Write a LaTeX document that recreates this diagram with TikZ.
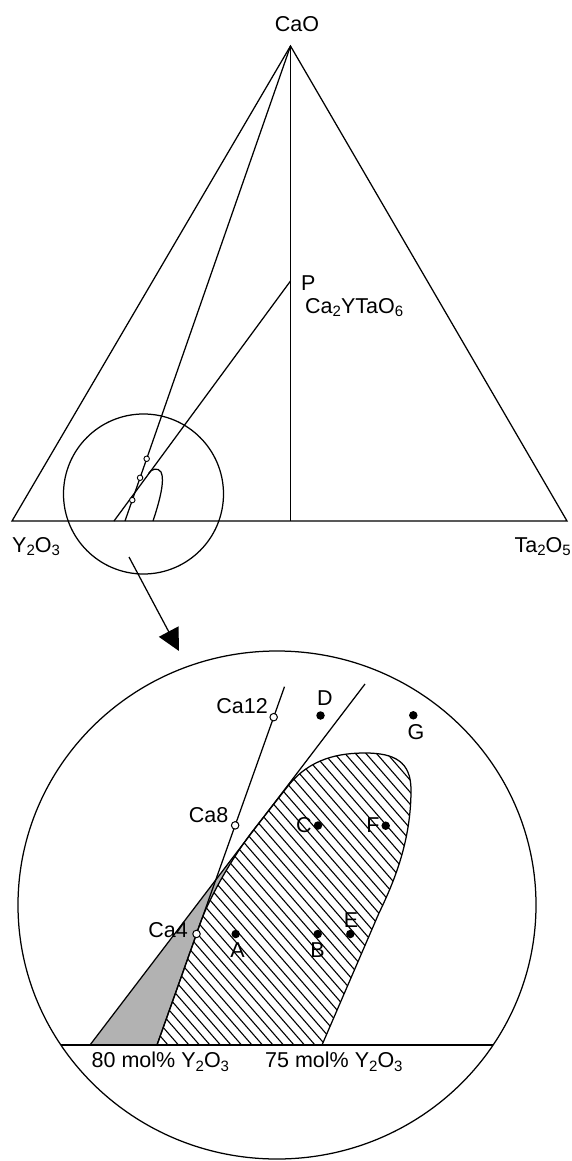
\documentclass[tikz,border=0pt]{standalone}
\usepackage{fontspec}
\setmainfont{Liberation Sans}
\usetikzlibrary{arrows.meta,calc}
\definecolor{twophase}{gray}{0.70}
\newcommand{\subs}[1]{\raisebox{-0.35ex}{\fontsize{15}{15}\selectfont #1}}

\begin{document}
\begin{tikzpicture}[
    x=1pt, y=-1pt,
    lbl/.style={inner sep=0pt, font=\fontsize{21.5}{25}\selectfont},
    edge/.style={line width=1.25pt},
    hatch/.style={line width=1.1pt},
    opendot/.style={circle, draw, fill=white, line width=1pt, inner sep=0pt, minimum size=7.5pt},
    smalldot/.style={circle, draw, fill=white, line width=0.9pt, inner sep=0pt, minimum size=5.5pt},
    fulldot/.style={circle, fill=black, inner sep=0pt, minimum size=8.5pt},
    arrow/.style={-{Triangle[length=22pt,width=22pt]}, line width=1.25pt}
]
    \useasboundingbox (0,0) rectangle (572,1161);

    % ternary triangle
    \coordinate (cao) at (290.5,46);
    \coordinate (yo) at (12,521);
    \coordinate (tao) at (567,521);
    \coordinate (mid) at (290.5,521);
    \coordinate (p) at (290.5,281);
    \coordinate (pfoot) at (114,521);
    \coordinate (cafoot) at (125,521);

    \draw[edge] (cao) -- (yo) -- (tao) -- cycle;
    \draw[edge] (cao) -- (mid);
    \draw[edge] (cao) -- (cafoot);
    \draw[edge] (p) -- (pfoot);
    \draw[edge] (148.5,473.5) .. controls (151,469) and (158,467) .. (161,472)
        .. controls (165,480) and (160,500) .. (153,521);
    \foreach \t [count=\i] in {0.869,0.909,0.956}
        \node[smalldot] (s\i) at ($(cao)!\t!(cafoot)$) {};

    \node[lbl, anchor=base] (caolbl) at (297,32) {CaO};
    \node[lbl, anchor=base west] (plbl) at (301,290) {P};
    \node[lbl, anchor=base west] (ctlbl) at (305,313) {Ca\subs{2}YTaO\subs{6}};
    \node[lbl, anchor=base west] (yolbl) at (12,552) {Y\subs{2}O\subs{3}};
    \node[lbl, anchor=base east] (taolbl) at (571,552) {Ta\subs{2}O\subs{5}};

    % magnified part
    \coordinate (zoomc) at (143.5,494);
    \draw[edge] (zoomc) circle [radius=80];
    \coordinate (arrstart) at (129,557);
    \coordinate (arrtip) at (179,651);
    \draw[arrow] (arrstart) -- (arrtip);

    \coordinate (bigc) at (277,905);
    \coordinate (chordl) at (60.9,1045);
    \coordinate (chordr) at (493.1,1045);
    \coordinate (ptop) at (365,684);
    \coordinate (pbot) at (90,1045);
    \coordinate (pmeet) at (255,828);
    \coordinate (catop) at (284.5,686.7);
    \coordinate (cabot) at (157,1045);
    \coordinate (ca4pos) at ($(catop)!0.690!(cabot)$);

    % two phase region (grey)
    \fill[twophase] (pbot) -- (pmeet) .. controls (230,860) and (205,905) .. (ca4pos)
        -- (cabot) -- cycle;

    % single phase region (hatched)
    \begin{scope}
        \clip (cabot) -- (ca4pos) .. controls (205,905) and (230,860) .. (pmeet)
            -- (288,786) .. controls (310,758) and (340,753) .. (365,753)
            .. controls (395,753) and (411,762) .. (411,790)
            .. controls (411,840) and (395,880) .. (379,913) -- (322,1045) -- cycle;
        \foreach \x in {-300,-289.5,...,420}
            \draw[hatch] (\x,700) -- ++(400,460);
    \end{scope}
    \draw[edge] (cabot) -- (ca4pos) .. controls (205,905) and (230,860) .. (pmeet)
        -- (288,786) .. controls (310,758) and (340,753) .. (365,753)
        .. controls (395,753) and (411,762) .. (411,790)
        .. controls (411,840) and (395,880) .. (379,913) -- (322,1045);

    \draw[edge] (bigc) ellipse [x radius=259, y radius=254];
    \draw[edge] (chordl) -- (chordr);
    \draw[edge] (ptop) -- (pbot);
    \draw[edge] (catop) -- (cabot);

    \node[opendot] (ca12) at ($(catop)!0.085!(cabot)$) {};
    \node[opendot] (ca8) at ($(catop)!0.387!(cabot)$) {};
    \node[opendot] (ca4) at (ca4pos) {};

    \node[fulldot] (a) at (235.7,934) {};
    \node[fulldot] (b) at (317.7,934) {};
    \node[fulldot] (c) at (318,825.5) {};
    \node[fulldot] (d) at (320.5,715.5) {};
    \node[fulldot] (e) at (350.3,934) {};
    \node[fulldot] (f) at (385.7,825.7) {};
    \node[fulldot] (g) at (413.3,715.3) {};

    \node[lbl, anchor=base east] (ca12lbl) at (268,713) {Ca12};
    \node[lbl, anchor=base east] (ca8lbl) at (228.5,822.7) {Ca8};
    \node[lbl, anchor=base east] (ca4lbl) at (188,937) {Ca4};
    \node[lbl, anchor=base] (alb) at (237.5,957.3) {A};
    \node[lbl, anchor=base] (blb) at (317.5,957.3) {B};
    \node[lbl, anchor=base] (clb) at (304,832.7) {C};
    \node[lbl, anchor=base] (dlb) at (325,705) {D};
    \node[lbl, anchor=base] (elb) at (351,927.3) {E};
    \node[lbl, anchor=base] (flb) at (373,832.7) {F};
    \node[lbl, anchor=base] (glb) at (416,739) {G};
    \node[lbl, anchor=base west] (mol80) at (91.5,1067.5) {80 mol\% Y\subs{2}O\subs{3}};
    \node[lbl, anchor=base west] (mol75) at (265,1067.5) {75 mol\% Y\subs{2}O\subs{3}};
\end{tikzpicture}
\end{document}
